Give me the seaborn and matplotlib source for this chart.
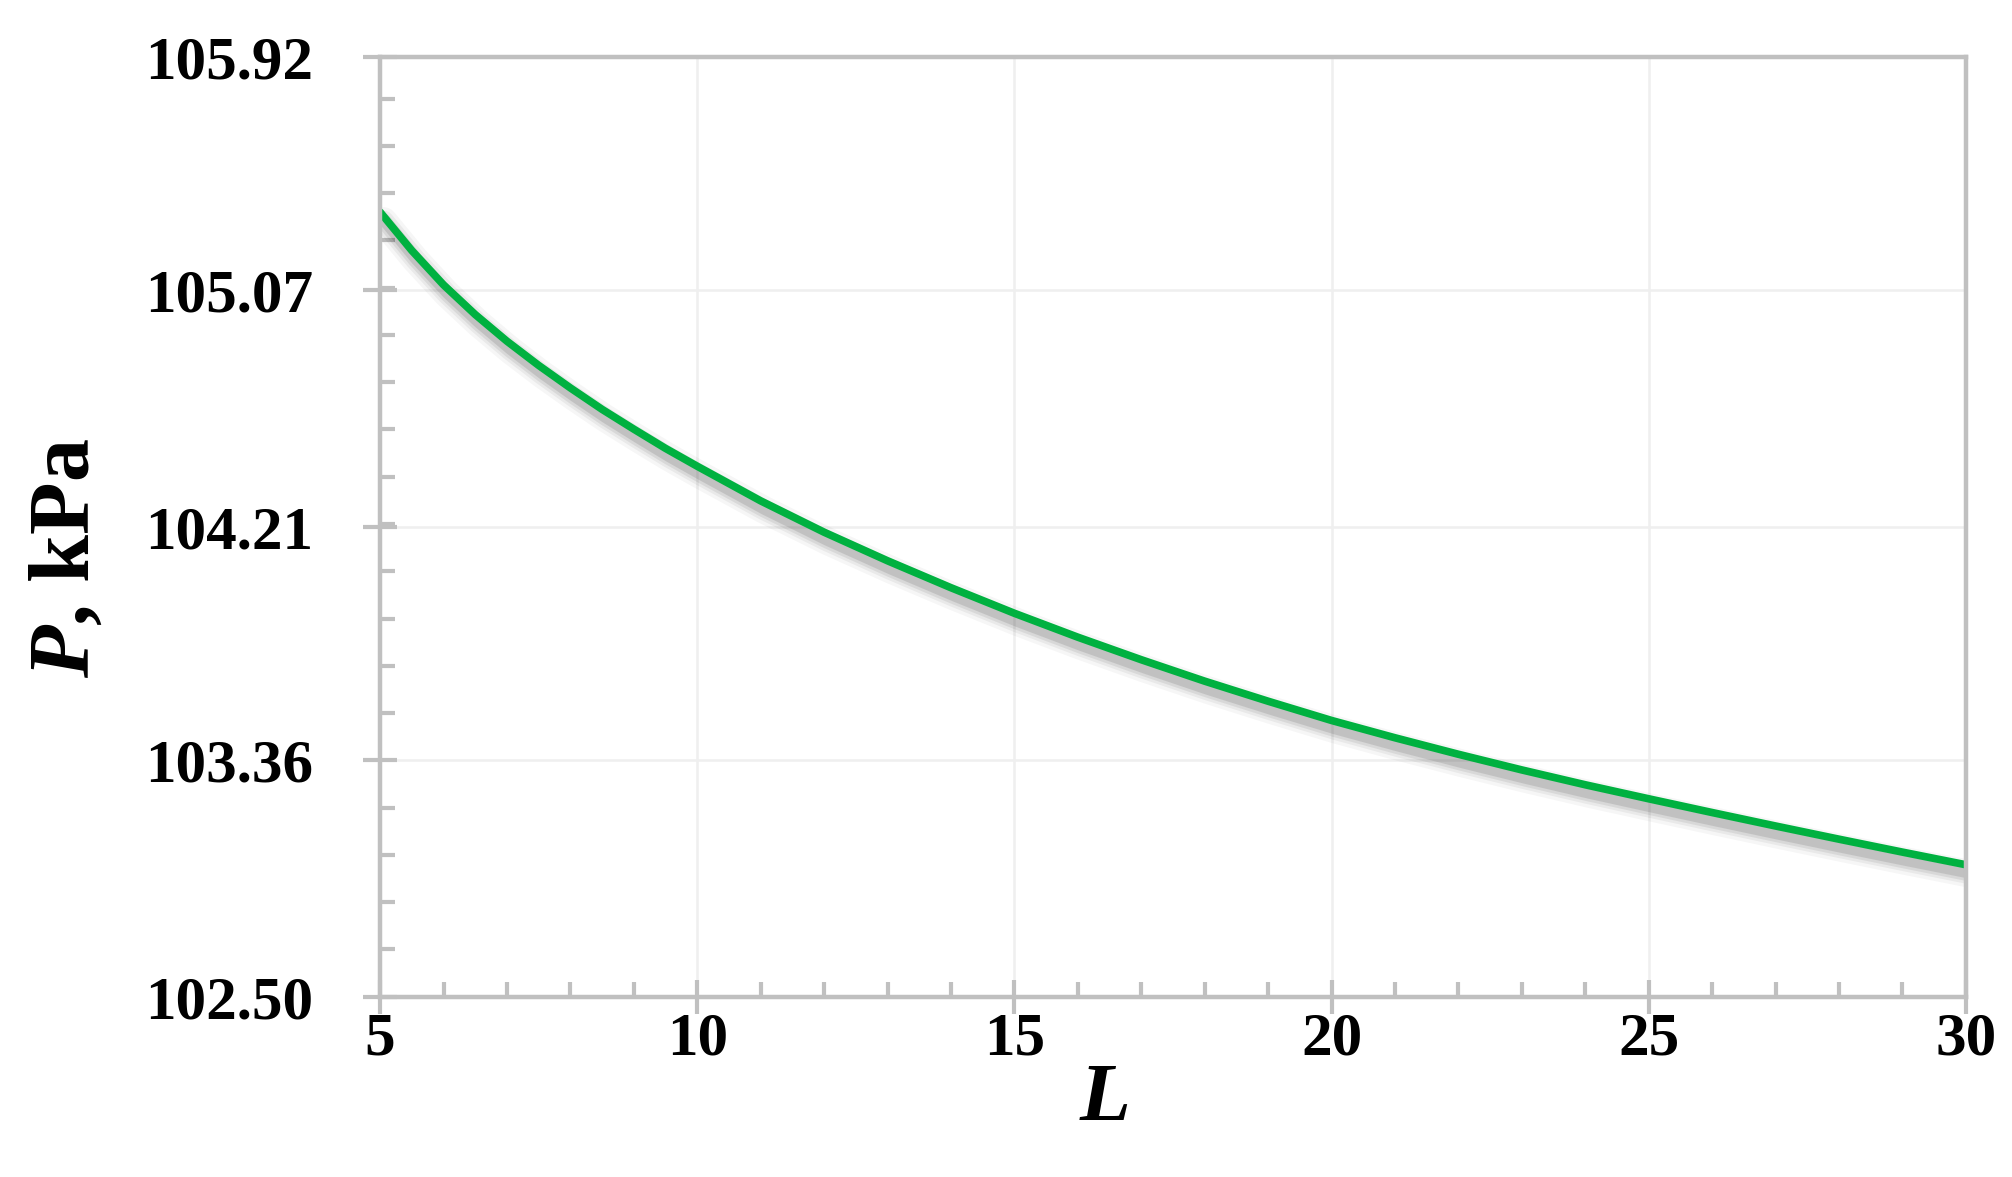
import matplotlib
matplotlib.use('Agg')
import matplotlib.pyplot as plt
import matplotlib.patheffects as pe
from matplotlib.ticker import AutoMinorLocator
import pandas as pd
import seaborn as sns

# values (half steps where it bends most)
L = [5, 5.5, 6, 6.5, 7, 7.5, 8, 8.5, 9, 9.5, 10, 10.5, 11, 11.5, 12,
     13, 14, 15, 16, 17, 18, 19, 20, 21, 22, 23, 24, 25, 26, 27, 28, 29, 30]
P = [105.355, 105.215, 105.09, 104.982, 104.885, 104.797, 104.715, 104.637,
     104.565, 104.495, 104.43, 104.367, 104.304, 104.247, 104.19,
     104.086, 103.988, 103.895, 103.808, 103.726, 103.648, 103.575, 103.505,
     103.442, 103.382, 103.325, 103.271, 103.22, 103.17, 103.121, 103.073,
     103.026, 102.98]

x_ticks = [5, 10, 15, 20, 25, 30]
y_ticks = [102.50, 103.36, 104.21, 105.07, 105.92]

sns.set_theme(style='white')
plt.rcParams['font.family'] = ['Liberation Serif', 'DejaVu Serif']
plt.rcParams['font.weight'] = 'bold'
plt.rcParams['text.color'] = 'black'
plt.rcParams['mathtext.fontset'] = 'custom'
plt.rcParams['mathtext.it'] = 'Liberation Serif:italic:bold'
plt.rcParams['mathtext.rm'] = 'Liberation Serif:bold'

fig = plt.figure(figsize=(20.12, 11.77), dpi=100)
ax = fig.add_axes([0.1889, 0.1532, 0.7882, 0.7986])

df = pd.DataFrame({'L': L, 'P': P})
# soft drop shadow under the line, like the excel original
shadow = [pe.SimpleLineShadow(offset=(2.5, -6.5), shadow_color='black', alpha=a, linewidth=w)
          for w, a in [(20, 0.035), (15, 0.05), (11, 0.07), (7, 0.1)]]
sns.lineplot(data=df, x='L', y='P', ax=ax, color='#00b140', linewidth=5.5,
             path_effects=shadow + [pe.Normal()])

ax.set_xlim(5, 30)
ax.set_ylim(102.50, 105.92)
ax.set_xticks(x_ticks)
ax.set_xticklabels([str(v) for v in x_ticks])
ax.set_yticks(y_ticks)
ax.set_yticklabels([f'{v:.2f}' for v in y_ticks])
ax.xaxis.set_minor_locator(AutoMinorLocator(5))
ax.yaxis.set_minor_locator(AutoMinorLocator(5))

ax.grid(True, which='major', color='#efefef', lw=1.8)
ax.set_axisbelow(True)
for s in ax.spines.values():
    s.set_color('#c0c0c0')
    s.set_linewidth(3.2)

ax.tick_params(which='both', bottom=True, left=True, top=False, right=False)
ax.tick_params(which='major', direction='inout', length=24, width=3, color='#c0c0c0',
               labelsize=44, labelcolor='black')
ax.tick_params(which='minor', direction='in', length=11, width=3, color='#c0c0c0')
ax.tick_params(axis='x', which='major', pad=-1)
ax.tick_params(axis='y', which='major', pad=36)
ax.set_xlabel('')
ax.set_ylabel('')

fig.text(0.034, 0.526, r'$P$, kPa', rotation=90, ha='center', va='center', fontsize=62, fontweight='bold')
fig.text(0.5487, 0.0654, r'$L$', ha='center', va='center', fontsize=60)

fig.savefig('out.png', dpi=100)
